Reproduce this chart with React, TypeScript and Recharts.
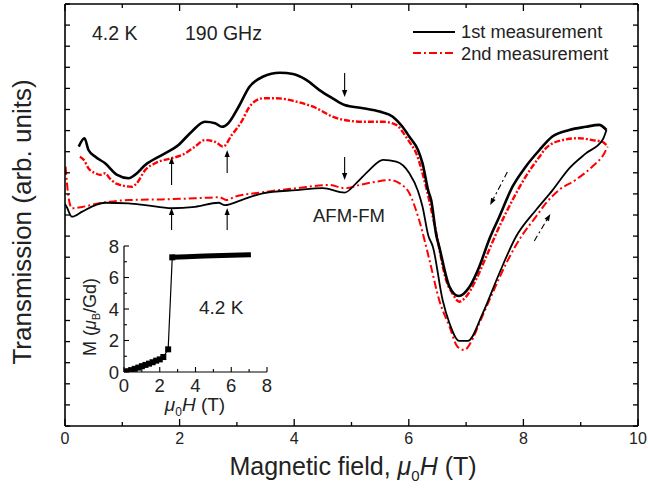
import React from 'react';
import { LineChart, Line, XAxis, YAxis, ReferenceLine } from 'recharts';

// ---- main chart data: [field (T), transmission (arb. units)] ----
const blackUpper: [number, number][] = [
  [0.24, 13.24], [0.34, 13.64], [0.41, 13.08], [0.53, 12.76], [0.7, 12.45], [0.91, 11.9],
  [1.11, 11.74], [1.22, 11.9], [1.4, 12.37], [1.69, 12.84], [1.98, 13.32], [2.21, 13.95],
  [2.44, 14.42], [2.62, 14.35], [2.74, 14.18], [2.85, 14.35], [3.03, 15.13], [3.22, 16.08],
  [3.45, 16.55], [3.75, 16.74], [3.98, 16.68], [4.21, 16.4], [4.44, 15.92], [4.67, 15.53],
  [4.88, 15.21], [5.2, 15.06], [5.49, 14.9], [5.72, 14.66], [5.89, 14.18], [6.01, 13.71],
  [6.16, 13.08], [6.24, 12.45], [6.34, 11.14], [6.39, 10.71], [6.48, 9.03], [6.53, 8.5],
  [6.71, 6.6], [6.87, 6.16], [7.06, 6.6], [7.23, 7.55], [7.4, 8.82], [7.58, 9.92],
  [7.81, 11.34], [8.04, 12.29], [8.28, 13.08], [8.5, 13.71], [8.8, 14.03], [9.09, 14.18],
  [9.32, 14.27], [9.45, 14.03],
];
const blackLower: [number, number][] = [
  [0.0, 10.52], [0.03, 10.38], [0.12, 9.92], [0.3, 10.16], [0.53, 10.47], [0.7, 10.58],
  [1.11, 10.55], [1.4, 10.47], [1.86, 10.32], [2.27, 10.39], [2.68, 10.58], [2.79, 10.47],
  [3.08, 10.71], [3.45, 11.03], [4.04, 11.18], [4.5, 11.27], [4.88, 11.06], [5.08, 11.5],
  [5.31, 12.13], [5.55, 12.61], [5.78, 12.53], [6.01, 11.98], [6.16, 11.14], [6.24, 10.39],
  [6.34, 9.03], [6.42, 8.5], [6.59, 5.97], [6.71, 4.87], [6.88, 4.03], [7.03, 4.03],
  [7.29, 5.34], [7.58, 7.24], [7.87, 8.97], [8.22, 10.24], [8.51, 11.18], [8.8, 12.21],
  [9.09, 12.92], [9.38, 13.55], [9.45, 14.03],
];
const redUpper: [number, number][] = [
  [0.26, 12.76], [0.33, 12.61], [0.41, 12.21], [0.53, 11.98], [0.61, 11.9], [0.7, 11.98],
  [0.78, 11.74], [0.91, 11.47], [1.17, 11.34], [1.25, 11.5], [1.4, 12.13], [1.57, 12.45],
  [1.86, 12.69], [2.04, 12.84], [2.27, 13.24], [2.44, 13.55], [2.62, 13.47], [2.76, 13.24],
  [2.91, 13.79], [3.08, 14.42], [3.22, 15.13], [3.45, 15.53], [3.69, 15.53], [4.04, 15.37],
  [4.39, 15.06], [4.67, 14.66], [4.88, 14.5], [5.2, 14.42], [5.55, 14.42], [5.78, 14.27],
  [5.95, 13.71], [6.01, 13.47], [6.13, 12.92], [6.3, 11.34], [6.48, 9.13], [6.65, 6.92],
  [6.76, 6.29], [6.88, 5.89], [7.0, 6.13], [7.17, 6.92], [7.35, 8.02], [7.58, 9.45],
  [7.81, 10.71], [8.04, 11.82], [8.28, 12.76], [8.39, 13.16], [8.68, 13.55], [8.97, 13.64],
  [9.2, 13.55], [9.38, 13.47], [9.47, 13.24],
];
const redLower: [number, number][] = [
  [0.01, 12.29], [0.06, 10.87], [0.12, 10.32], [0.3, 10.38], [0.53, 10.52], [0.78, 10.63],
  [1.11, 10.71], [1.69, 10.74], [2.27, 10.79], [2.7, 10.84], [2.82, 10.71], [2.97, 10.87],
  [3.4, 11.06], [4.04, 11.27], [4.62, 11.42], [4.88, 11.27], [5.14, 11.42], [5.43, 11.58],
  [5.66, 11.66], [5.84, 11.5], [6.01, 11.03], [6.18, 9.76], [6.36, 7.87], [6.53, 5.97],
  [6.71, 4.71], [6.85, 3.76], [6.97, 3.6], [7.09, 4.0], [7.23, 4.87], [7.46, 6.29],
  [7.7, 7.71], [7.98, 9.05], [8.22, 9.92], [8.39, 10.55], [8.62, 11.18], [8.91, 11.66],
  [9.2, 12.29], [9.41, 12.92], [9.47, 13.24],
];

// annotation arrows: [x1, y1, x2(tip), y2(tip)]
const solidArrows: [number, number, number, number][] = [
  [4.88, 16.73, 4.88, 15.59],
  [4.88, 12.75, 4.88, 11.66],
  [1.86, 11.42, 1.86, 12.75],
  [2.83, 11.99, 2.83, 13.08],
  [1.86, 9.29, 1.86, 10.33],
  [2.83, 9.29, 2.83, 10.33],
];
const sweepArrows: [number, number, number, number][] = [
  [7.72, 12.04, 7.42, 10.47],
  [8.19, 8.77, 8.47, 10.05],
];

// ---- inset data: M (muB/Gd) vs field (T) ----
const insetLow: [number, number][] = [
  [0.0, 0.0], [0.2, 0.05], [0.4, 0.12], [0.6, 0.2], [0.8, 0.28], [1.0, 0.37], [1.2, 0.45],
  [1.4, 0.53], [1.6, 0.62], [1.8, 0.72], [2.0, 0.8], [2.2, 0.95], [2.47, 1.44], [2.7, 7.28],
];
const insetHigh: [number, number][] = [
  [2.7, 7.28], [3.5, 7.32], [4.5, 7.36], [5.5, 7.4], [6.5, 7.43], [7.1, 7.45],
];

const X_TICKS = [0, 1, 2, 3, 4, 5, 6, 7, 8, 9, 10];
const Y_TICKS = [0, 1, 2, 3, 4, 5, 6, 7, 8, 9, 10, 11, 12, 13, 14, 15, 16, 17, 18, 19, 20];
const INSET_X_TICKS = [0, 1, 2, 3, 4, 5, 6, 7, 8];
const INSET_Y_TICKS = [0, 1, 2, 3, 4, 5, 6, 7, 8];

const FONT = '"Liberation Sans", Arial, Helvetica, sans-serif';
const INK = '#222';
const RED = '#ff0000';

const pts = (a: [number, number][]) => a.map(([x, y]) => ({ x, y }));

const BottomTick = (p: any) => {
  const v = p.payload.value;
  const major = v % 2 === 0;
  return (
    <g>
      <line x1={p.x} y1={p.y} x2={p.x} y2={p.y - (major ? 7 : 4)} stroke="#000" strokeWidth={1.3} />
      {major && (
        <text x={p.x} y={p.y + 18} textAnchor="middle" fontSize={16} fill={INK} fontFamily={FONT}>
          {v}
        </text>
      )}
    </g>
  );
};
const TopTick = (p: any) => {
  const major = p.payload.value % 2 === 0;
  return <line x1={p.x} y1={p.y} x2={p.x} y2={p.y + (major ? 7 : 4)} stroke="#000" strokeWidth={1.3} />;
};
const LeftTick = (p: any) => <line x1={p.x} y1={p.y} x2={p.x + 5} y2={p.y} stroke="#000" strokeWidth={1.3} />;
const RightTick = (p: any) => <line x1={p.x} y1={p.y} x2={p.x - 5} y2={p.y} stroke="#000" strokeWidth={1.3} />;

const InsetXTick = (p: any) => {
  const v = p.payload.value;
  const major = v % 2 === 0;
  return (
    <g>
      <line x1={p.x} y1={p.y} x2={p.x} y2={p.y - (major ? 5 : 3)} stroke="#000" strokeWidth={1.1} />
      {major && (
        <text x={p.x} y={p.y + 20} textAnchor="middle" fontSize={18.5} fill={INK} fontFamily={FONT}>
          {v}
        </text>
      )}
    </g>
  );
};
const InsetYTick = (p: any) => {
  const v = p.payload.value;
  const major = v % 2 === 0;
  return (
    <g>
      <line x1={p.x} y1={p.y} x2={p.x + (major ? 5 : 3)} y2={p.y} stroke="#000" strokeWidth={1.1} />
      {major && (
        <text x={p.x - 5} y={p.y + 6.5} textAnchor="end" fontSize={18.5} fill={INK} fontFamily={FONT}>
          {v}
        </text>
      )}
    </g>
  );
};

const arrowShape = (dash?: string) => (p: any) => {
  const { x1, y1, x2, y2 } = p;
  const ang = Math.atan2(y2 - y1, x2 - x1);
  const L = 7;
  const W = 2.6;
  const c = Math.cos(ang);
  const s = Math.sin(ang);
  const bx = x2 - L * c;
  const by = y2 - L * s;
  return (
    <g>
      <line x1={x1} y1={y1} x2={bx} y2={by} stroke="#000" strokeWidth={1.1} strokeDasharray={dash} />
      <polygon
        points={`${x2},${y2} ${bx + W * s},${by - W * c} ${bx - W * s},${by + W * c}`}
        fill="#000"
      />
    </g>
  );
};

const SquareDot = (p: any) => (
  <rect key={`sq${p.index}`} x={p.cx - 3} y={p.cy - 3} width={6} height={6} fill="#000" />
);

export default function App() {
  return (
    <div style={{ position: 'absolute', left: 0, top: 0, width: 648, height: 491, background: '#fff' }}>
      <div style={{ position: 'absolute', left: 0, top: 0 }}>
        <LineChart width={648} height={491} margin={{ top: 3, right: 9, bottom: 0, left: 0 }}>
          <XAxis
            type="number"
            dataKey="x"
            domain={[0, 10]}
            allowDataOverflow
            ticks={X_TICKS}
            interval={0}
            height={65}
            tickSize={0}
            tickMargin={0}
            tick={BottomTick}
            axisLine={{ stroke: '#000', strokeWidth: 1.6 }}
          />
          <XAxis
            xAxisId="top"
            orientation="top"
            type="number"
            dataKey="x"
            domain={[0, 10]}
            allowDataOverflow
            ticks={X_TICKS}
            interval={0}
            height={1}
            tickSize={0}
            tickMargin={0}
            tick={TopTick}
            axisLine={{ stroke: '#000', strokeWidth: 1.6 }}
          />
          <YAxis
            type="number"
            domain={[0, 20]}
            allowDataOverflow
            ticks={Y_TICKS}
            interval={0}
            width={65}
            tickSize={0}
            tickMargin={0}
            tick={LeftTick}
            axisLine={{ stroke: '#000', strokeWidth: 1.6 }}
          />
          <YAxis
            yAxisId="right"
            orientation="right"
            type="number"
            domain={[0, 20]}
            allowDataOverflow
            ticks={Y_TICKS}
            interval={0}
            width={1}
            tickSize={0}
            tickMargin={0}
            tick={RightTick}
            axisLine={{ stroke: '#000', strokeWidth: 1.6 }}
          />
          <Line data={pts(redLower)} dataKey="y" type="monotone" stroke={RED} strokeWidth={2}
            xAxisId="top" yAxisId="right"
            strokeDasharray="8 3 2 3" dot={false} isAnimationActive={false} />
          <Line data={pts(redUpper)} dataKey="y" type="monotone" stroke={RED} strokeWidth={2.4}
            xAxisId="top" yAxisId="right"
            strokeDasharray="6 2 2 2" dot={false} isAnimationActive={false} />
          <Line data={pts(blackLower)} dataKey="y" type="monotone" stroke="#000" strokeWidth={1.8}
            dot={false} isAnimationActive={false} />
          <Line data={pts(blackUpper)} dataKey="y" type="monotone" stroke="#000" strokeWidth={2.6}
            dot={false} isAnimationActive={false} />
          {solidArrows.map(([a, b, c, d], i) => (
            <ReferenceLine key={`sa${i}`} segment={[{ x: a, y: b }, { x: c, y: d }]} shape={arrowShape()} />
          ))}
          {sweepArrows.map(([a, b, c, d], i) => (
            <ReferenceLine key={`sw${i}`} segment={[{ x: a, y: b }, { x: c, y: d }]} shape={arrowShape('6 3 2 3')} />
          ))}
        </LineChart>
      </div>

      <div style={{ position: 'absolute', left: 60, top: 236 }}>
        <LineChart width={215} height={185} margin={{ top: 10, right: 8, bottom: 0, left: 0 }}>
          <XAxis
            type="number"
            dataKey="x"
            domain={[0, 8]}
            allowDataOverflow
            ticks={INSET_X_TICKS}
            interval={0}
            height={49}
            tickSize={0}
            tickMargin={0}
            tick={InsetXTick}
            axisLine={{ stroke: '#000', strokeWidth: 1.2 }}
          />
          <YAxis
            type="number"
            domain={[0, 8]}
            allowDataOverflow
            ticks={INSET_Y_TICKS}
            interval={0}
            width={64}
            tickSize={0}
            tickMargin={0}
            tick={InsetYTick}
            axisLine={{ stroke: '#000', strokeWidth: 1.2 }}
          />
          <Line data={pts(insetLow)} dataKey="y" type="linear" stroke="#000" strokeWidth={1.2}
            dot={SquareDot} isAnimationActive={false} />
          <Line data={pts(insetHigh)} dataKey="y" type="linear" stroke="#000" strokeWidth={5}
            dot={false} isAnimationActive={false} />
        </LineChart>
      </div>

      <svg width={648} height={491} style={{ position: 'absolute', left: 0, top: 0, pointerEvents: 'none' }}
        fontFamily={FONT} fill={INK}>
        <text x={92} y={40} fontSize={19.5}>4.2 K</text>
        <text x={185} y={40} fontSize={19.5}>190 GHz</text>
        <line x1={413} y1={32} x2={455} y2={32} stroke="#000" strokeWidth={2} />
        <line x1={413} y1={53} x2={455} y2={53} stroke={RED} strokeWidth={2} strokeDasharray="8 3 2 3" />
        <text x={461} y={38} fontSize={18.3}>1st measurement</text>
        <text x={461} y={59.5} fontSize={18.3}>2nd measurement</text>
        <text x={313} y={222} fontSize={18.5}>AFM-FM</text>
        <text x={199} y={314} fontSize={19}>4.2 K</text>
        <text x={353} y={475} textAnchor="middle" fontSize={25}>
          Magnetic field, <tspan fontStyle="italic">μ</tspan>
          <tspan fontSize={15} dy={6}>0</tspan>
          <tspan fontStyle="italic" dy={-6}>H</tspan> (T)
        </text>
        <text transform="translate(31,222) rotate(-90)" textAnchor="middle" fontSize={26}>
          Transmission (arb. units)
        </text>
        <text x={195} y={411} textAnchor="middle" fontSize={19}>
          <tspan fontStyle="italic">μ</tspan>
          <tspan fontSize={12} dy={5}>0</tspan>
          <tspan fontStyle="italic" dy={-5}>H</tspan> (T)
        </text>
        <text transform="translate(96,317) rotate(-90)" textAnchor="middle" fontSize={18}>
          M (<tspan fontStyle="italic">μ</tspan>
          <tspan fontSize={11} dy={4}>B</tspan>
          <tspan dy={-4}>/Gd)</tspan>
        </text>
      </svg>
    </div>
  );
}
